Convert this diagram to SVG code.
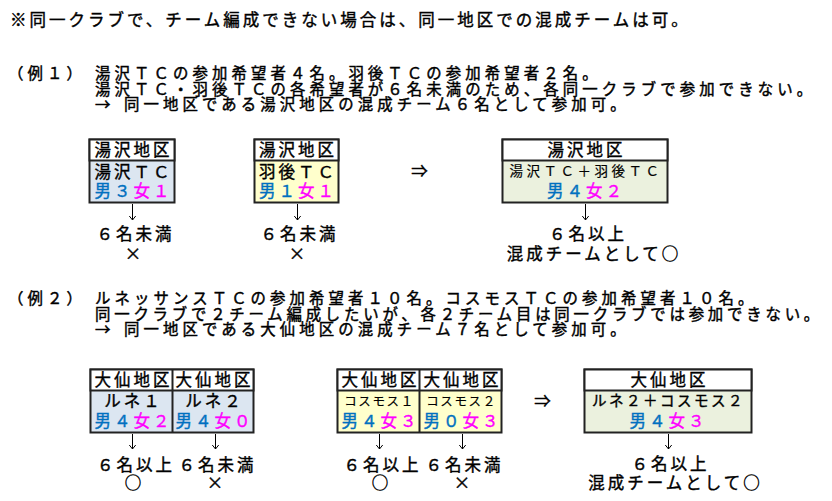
<svg xmlns="http://www.w3.org/2000/svg" width="832" height="501" viewBox="0 0 832 501">
<defs>
<style>
text{font-family:"Noto Sans CJK JP","Noto Sans CJK SC",sans-serif;font-size:16.5px;letter-spacing:3px;font-weight:normal;fill:#000;stroke:#000;stroke-width:0.4px}
.para{font-size:15.4px;letter-spacing:4.1px;stroke-width:0.45px}
.c{text-anchor:middle}
.s{font-size:13.5px;letter-spacing:3.5px;stroke-width:0.2px}
.xs{font-size:12.5px;letter-spacing:1.6px;stroke-width:0.2px}
.m{font-size:14.5px;letter-spacing:2.5px}
.b{fill:#0070c0;stroke:#0070c0}
.p{fill:#ff00ff;stroke:#ff00ff}
.box{stroke:#222;stroke-width:2}
.hd{fill:#fff}
.blue{fill:#dce6f1}
.yel{fill:#ffffcc}
.grn{fill:#ebf1de}
.arr{stroke:#000;stroke-width:1;fill:none}
</style>
<marker id="ah" viewBox="0 0 8 8" refX="7.5" refY="4" markerWidth="8" markerHeight="8" markerUnits="userSpaceOnUse" orient="auto">
<path d="M3.5,0.8 L7.5,4 L3.5,7.2" fill="none" stroke="#000" stroke-width="1"/>
</marker>
</defs>
<rect width="832" height="501" fill="#fff"/>

<!-- intro text -->
<text x="10" y="26">※同一クラブで、チーム編成できない場合は、同一地区での混成チームは可。</text>

<text class="para" x="8" y="79">（例１）</text>
<text class="para" x="95" y="79">湯沢ＴＣの参加希望者４名。羽後ＴＣの参加希望者２名。</text>
<text class="para" x="95" y="94.5">湯沢ＴＣ・羽後ＴＣの各希望者が６名未満のため、各同一クラブで参加できない。</text>
<text class="para" x="95" y="110">→</text>
<text class="para" x="124" y="110">同一地区である湯沢地区の混成チーム６名として参加可。</text>

<text class="para" x="8" y="304">（例２）</text>
<text class="para" x="95" y="304">ルネッサンスＴＣの参加希望者１０名。コスモスＴＣの参加希望者１０名。</text>
<text class="para" x="95" y="319.5" style="letter-spacing:3.8px">同一クラブで２チーム編成したいが、各２チーム目は同一クラブでは参加できない。</text>
<text class="para" x="95" y="335">→</text>
<text class="para" x="124" y="335">同一地区である大仙地区の混成チーム７名として参加可。</text>

<!-- Example 1 nodes -->
<g id="ex1-yuzawa-tc">
<rect class="box blue" x="89.5" y="139.5" width="85" height="63"/>
<rect class="box hd" x="89.5" y="139.5" width="85" height="21"/>
<text class="c" x="133.5" y="156">湯沢地区</text>
<text class="c" x="133.5" y="177.5">湯沢ＴＣ</text>
<text class="c" x="133.5" y="197"><tspan class="b">男３</tspan><tspan class="p">女１</tspan></text>
</g>
<g id="ex1-ugo-tc">
<rect class="box yel" x="254.5" y="139.5" width="84" height="63"/>
<rect class="box hd" x="254.5" y="139.5" width="84" height="21"/>
<text class="c" x="298" y="156">湯沢地区</text>
<text class="c" x="298" y="177.5">羽後ＴＣ</text>
<text class="c" x="298" y="197"><tspan class="b">男１</tspan><tspan class="p">女１</tspan></text>
</g>
<g id="ex1-mixed">
<rect class="box grn" x="502.5" y="139.5" width="165" height="63"/>
<rect class="box hd" x="502.5" y="139.5" width="165" height="21"/>
<text class="c" x="586.5" y="156">湯沢地区</text>
<text class="c s" x="586" y="176">湯沢ＴＣ＋羽後ＴＣ</text>
<text class="c" x="586" y="197"><tspan class="b">男４</tspan><tspan class="p">女２</tspan></text>
</g>
<text class="c" x="421" y="177">⇒</text>

<g id="ex1-res1">
<text class="c" x="135.5" y="239.5">６名未満</text>
<text class="c" x="134.5" y="260">×</text>
</g>
<g id="ex1-res2">
<text class="c" x="299.5" y="239.5">６名未満</text>
<text class="c" x="298.5" y="260">×</text>
</g>
<g id="ex1-res3">
<text class="c" x="588" y="240">６名以上</text>
<text class="c" x="594" y="260">混成チームとして○</text>
</g>

<!-- Example 2 nodes -->
<g id="ex2-rune">
<rect class="box blue" x="90.5" y="369.5" width="163" height="63"/>
<rect class="box hd" x="90.5" y="369.5" width="163" height="21"/>
<line class="box" x1="172.5" y1="369.5" x2="172.5" y2="432.5"/>
<text class="c" x="133.5" y="386">大仙地区</text>
<text class="c" x="214.5" y="386">大仙地区</text>
<text class="c" x="133.5" y="407">ルネ１</text>
<text class="c" x="214.5" y="407">ルネ２</text>
<text class="c" x="133.5" y="427"><tspan class="b">男４</tspan><tspan class="p">女２</tspan></text>
<text class="c" x="214.5" y="427"><tspan class="b">男４</tspan><tspan class="p">女０</tspan></text>
</g>
<g id="ex2-cosmos">
<rect class="box yel" x="337.5" y="369.5" width="164" height="63"/>
<rect class="box hd" x="337.5" y="369.5" width="164" height="21"/>
<line class="box" x1="419.5" y1="369.5" x2="419.5" y2="432.5"/>
<text class="c" x="380.5" y="386">大仙地区</text>
<text class="c" x="462.5" y="386">大仙地区</text>
<text class="c xs" x="379.5" y="406">コスモス１</text>
<text class="c xs" x="461.5" y="406">コスモス２</text>
<text class="c" x="380.5" y="427"><tspan class="b">男４</tspan><tspan class="p">女３</tspan></text>
<text class="c" x="462.5" y="427"><tspan class="b">男０</tspan><tspan class="p">女３</tspan></text>
</g>
<g id="ex2-mixed">
<rect class="box grn" x="584.5" y="369.5" width="167" height="63"/>
<rect class="box hd" x="584.5" y="369.5" width="167" height="21"/>
<text class="c" x="669.5" y="386">大仙地区</text>
<text class="c m" x="668.5" y="406">ルネ２＋コスモス２</text>
<text class="c" x="668.5" y="427"><tspan class="b">男４</tspan><tspan class="p">女３</tspan></text>
</g>
<text class="c" x="544" y="407">⇒</text>

<g id="ex2-res1">
<text class="c" x="136" y="471">６名以上</text>
<text class="c" x="134.5" y="489">○</text>
</g>
<g id="ex2-res2">
<text class="c" x="217.5" y="471">６名未満</text>
<text class="c" x="216.5" y="489">×</text>
</g>
<g id="ex2-res3">
<text class="c" x="382.5" y="471">６名以上</text>
<text class="c" x="381.5" y="489">○</text>
</g>
<g id="ex2-res4">
<text class="c" x="464.5" y="471">６名未満</text>
<text class="c" x="463.5" y="489">×</text>
</g>
<g id="ex2-res5">
<text class="c" x="670.5" y="470">６名以上</text>
<text class="c" x="675.5" y="489">混成チームとして○</text>
</g>

<!-- connectors -->
<g id="connectors">
<line class="arr" x1="132.5" y1="204" x2="132.5" y2="220" marker-end="url(#ah)"/>
<line class="arr" x1="297.5" y1="204" x2="297.5" y2="220" marker-end="url(#ah)"/>
<line class="arr" x1="585.5" y1="204" x2="585.5" y2="220" marker-end="url(#ah)"/>
<line class="arr" x1="132.5" y1="434" x2="132.5" y2="449" marker-end="url(#ah)"/>
<line class="arr" x1="215.5" y1="434" x2="215.5" y2="449" marker-end="url(#ah)"/>
<line class="arr" x1="379.5" y1="434" x2="379.5" y2="449" marker-end="url(#ah)"/>
<line class="arr" x1="462.5" y1="434" x2="462.5" y2="449" marker-end="url(#ah)"/>
<line class="arr" x1="668.5" y1="434" x2="668.5" y2="449" marker-end="url(#ah)"/>
</g>
</svg>
